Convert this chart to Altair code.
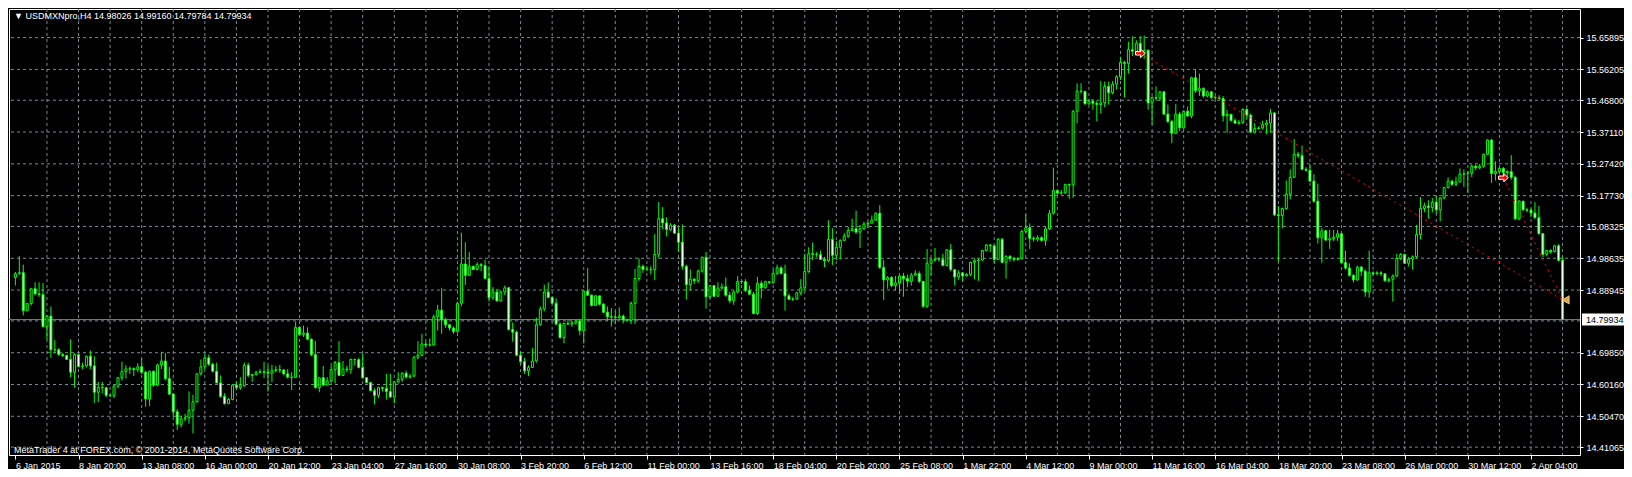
import altair as alt
import pandas as pd

# ---------------- data ----------------
symbol = "USDMXNpro,H4"
first_open = 14.9276

closes = [
    14.9394, 14.9423, 14.8268, 14.8483, 14.8934, 14.8777, 14.8758, 14.7779, 14.8102, 14.7074,
    14.7074, 14.6927, 14.6897, 14.6780, 14.6388, 14.6927, 14.6565, 14.6584, 14.6878, 14.6584,
    14.5781, 14.5928, 14.5918, 14.5684, 14.5674, 14.5967, 14.6222, 14.6408, 14.6486, 14.6496,
    14.6467, 14.6555, 14.6388, 14.5576, 14.6418, 14.5997, 14.6614, 14.6731, 14.6193, 14.5723,
    14.5184, 14.4802, 14.4969, 14.4998, 14.5233, 14.5488, 14.6340, 14.6555, 14.6829, 14.6633,
    14.6418, 14.6065, 14.5654, 14.5429, 14.5556, 14.5997, 14.5919, 14.5977, 14.6604, 14.6291,
    14.6320, 14.6388, 14.6408, 14.6388, 14.6359, 14.6437, 14.6467, 14.6457, 14.6340, 14.6242,
    14.6232, 14.7759, 14.7544, 14.7583, 14.7397, 14.6927, 14.5919, 14.6222, 14.5997, 14.6124,
    14.6467, 14.6682, 14.6291, 14.6486, 14.6467, 14.6780, 14.6770, 14.6535, 14.6222, 14.6075,
    14.5830, 14.5684, 14.5919, 14.5899, 14.5801, 14.5635, 14.6095, 14.6173, 14.6359, 14.6242,
    14.6271, 14.6849, 14.6907, 14.7250, 14.7221, 14.7220, 14.8082, 14.8278, 14.7984, 14.7837,
    14.7739, 14.7632, 14.8493, 14.9687, 14.9345, 14.9619, 14.9521, 14.9668, 14.9639, 14.9247,
    14.8660, 14.8836, 14.8562, 14.8836, 14.8963, 14.7690, 14.7612, 14.6907, 14.6711, 14.6437,
    14.6535, 14.6731, 14.7837, 14.8317, 14.8836, 14.8670, 14.8493, 14.7857, 14.7445, 14.7876,
    14.7857, 14.7896, 14.7955, 14.7661, 14.8865, 14.8738, 14.8425, 14.8718, 14.8464, 14.8219,
    14.8082, 14.8072, 14.8053, 14.8101, 14.7984, 14.7974, 14.8493, 14.9247, 14.9619, 14.9521,
    14.9511, 14.9516, 14.9981, 15.1068, 15.0941, 15.0735, 15.0872, 15.0627, 15.0353, 14.9619,
    14.9061, 14.9227, 14.9178, 14.9472, 14.9893, 14.8689, 14.9032, 14.8708, 14.8953, 14.8992,
    14.8738, 14.8571, 14.8836, 14.9159, 14.9149, 14.8885, 14.8767, 14.8180, 14.9100, 14.8963,
    14.9149, 14.9129, 14.9404, 14.9570, 14.9394, 14.8718, 14.8610, 14.8620, 14.8806, 14.8963,
    14.9460, 15.0002, 14.9983, 14.9973, 14.9827, 14.9789, 15.0440, 14.9954, 15.0197, 15.0410,
    15.0537, 15.0712, 15.0760, 15.0663, 15.0760, 15.0906, 15.0935, 15.1022, 15.1236, 14.9585,
    14.9206, 14.9274, 14.9030, 14.9108, 14.9322, 14.9244, 14.9167, 14.9351, 14.9400, 14.9157,
    14.8399, 14.9711, 14.9808, 14.9837, 14.9827, 14.9643, 15.0119, 14.9517, 14.9293, 14.9419,
    14.9322, 14.9371, 14.9740, 14.9789, 14.9808, 15.0100, 15.0265, 15.0245, 14.9827, 15.0440,
    14.9740, 14.9924, 14.9857, 14.9827, 14.9857, 15.0682, 15.0799, 15.0469, 15.0449, 15.0488,
    15.0410, 15.0760, 15.1236, 15.1926, 15.1848, 15.1858, 15.2111, 15.2101, 15.4345, 15.4958,
    15.4948, 15.4569, 15.4647, 15.4588, 15.4550, 15.4598, 15.5103, 15.4909, 15.5171, 15.5395,
    15.5832, 15.5803, 15.6220, 15.6172, 15.6415, 15.6123, 15.6201, 15.4598, 15.4763, 15.4744,
    15.4938, 15.4258, 15.4034, 15.3675, 15.4258, 15.3840, 15.4345, 15.4200, 15.5366, 15.4977,
    15.5035, 15.4812, 15.4938, 15.4763, 15.4753, 15.4729, 15.4205, 15.4253, 15.4059, 15.3981,
    15.4001, 15.4399, 15.4224, 15.3710, 15.3816, 15.3836, 15.3933, 15.3981, 15.4292, 15.1186,
    15.1166, 15.1380, 15.1817, 15.2331, 15.3030, 15.2991, 15.2574, 15.2545, 15.2215, 15.1603,
    15.0487, 15.0700, 15.0419, 15.0458, 15.0506, 15.0613, 14.9730, 14.9565, 14.9342, 14.9206,
    14.9594, 14.9468, 14.8837, 14.9419, 14.9390, 14.9419, 14.9390, 14.9177, 14.9225, 14.9322,
    14.9856, 14.9982, 14.9711, 14.9837, 14.9905, 15.0584, 15.1380, 15.1458, 15.1409, 15.1574,
    15.1341, 15.1700, 15.2021, 15.2215, 15.2118, 15.2186, 15.2428, 15.2438, 15.2457, 15.2671,
    15.2622, 15.2671, 15.3030, 15.3467, 15.2448, 15.2506, 15.2603, 15.2477, 15.2506, 15.2331,
    15.1070, 15.1603, 15.1341, 15.1331, 15.1244, 15.1098, 15.0613, 14.9982, 15.0099, 15.0060,
    15.0244, 14.98026, 14.79934,
]

highs = [
    14.9443, 14.9932, 14.9668, 14.8503, 14.8963, 14.9130, 14.9130, 14.9110, 14.8131, 14.8395,
    14.7367, 14.7123, 14.6976, 14.6927, 14.7397, 14.6976, 14.6927, 14.6682, 14.6897, 14.7054,
    14.6878, 14.6095, 14.6095, 14.5772, 14.5723, 14.5997, 14.6242, 14.6711, 14.6604, 14.6565,
    14.6535, 14.6663, 14.6799, 14.6437, 14.6437, 14.6437, 14.6653, 14.7015, 14.6976, 14.6555,
    14.5752, 14.5263, 14.5067, 14.5116, 14.5801, 14.5703, 14.6359, 14.6780, 14.6946, 14.6927,
    14.6682, 14.6682, 14.6291, 14.5752, 14.5605, 14.6026, 14.6095, 14.6242, 14.6682, 14.6682,
    14.6340, 14.6437, 14.6486, 14.6702, 14.6584, 14.6614, 14.6584, 14.6614, 14.6486, 14.6486,
    14.6388, 14.7925, 14.7788, 14.7808, 14.7759, 14.7416, 14.7348, 14.6242, 14.6584, 14.6242,
    14.6584, 14.6731, 14.7338, 14.6731, 14.6584, 14.6809, 14.6799, 14.6829, 14.6946, 14.6242,
    14.6095, 14.5899, 14.5948, 14.5948, 14.6340, 14.6340, 14.6114, 14.6388, 14.6388, 14.6437,
    14.6340, 14.6878, 14.7338, 14.7563, 14.7318, 14.7416, 14.8150, 14.8444, 14.8963, 14.8053,
    14.7857, 14.7778, 14.8542, 15.0647, 15.0353, 15.0060, 14.9638, 14.9746, 14.9717, 14.9815,
    14.9619, 14.8983, 14.8934, 14.8885, 14.9032, 14.8983, 14.7906, 14.7661, 14.7025, 14.6829,
    14.6604, 14.7122, 14.8053, 14.8395, 14.9061, 14.9130, 14.8708, 14.8640, 14.7906, 14.7906,
    14.7974, 14.7955, 14.8004, 14.8004, 14.8885, 14.9570, 14.8757, 14.8738, 14.8640, 14.8493,
    14.8395, 14.8346, 14.8248, 14.8366, 14.8150, 14.8004, 14.8542, 14.9540, 14.9864, 14.9668,
    14.9619, 14.9619, 15.0598, 15.1577, 15.1430, 15.1117, 15.0941, 15.0911, 15.0794, 15.0892,
    14.9668, 14.9521, 14.9247, 14.9521, 14.9913, 15.0060, 14.9051, 14.9051, 14.9130, 14.9100,
    14.9276, 14.8836, 14.8885, 14.9325, 14.9178, 14.9227, 14.9032, 14.8836, 14.9296, 14.9178,
    14.9178, 14.9149, 14.9521, 14.9668, 14.9619, 14.9668, 14.8787, 14.8689, 14.8836, 14.9227,
    15.0010, 15.0197, 15.0342, 15.0051, 15.0100, 14.9905, 15.1022, 15.0780, 15.0391, 15.0440,
    15.0634, 15.0828, 15.1071, 15.1314, 15.0877, 15.0974, 15.0974, 15.1168, 15.1265, 15.1479,
    14.9808, 14.9322, 14.9322, 14.9322, 14.9371, 14.9419, 14.9371, 14.9419, 14.9497, 14.9468,
    14.9176, 15.0148, 14.9857, 15.0177, 14.9905, 15.0002, 15.0148, 15.0294, 14.9536, 14.9497,
    14.9439, 14.9419, 14.9760, 14.9857, 14.9857, 15.0119, 15.0294, 15.0294, 15.0119, 15.0488,
    15.0488, 14.9954, 14.9954, 14.9905, 14.9905, 15.0731, 15.1197, 15.0925, 15.0537, 15.0566,
    15.0537, 15.0828, 15.1333, 15.2626, 15.1945, 15.1945, 15.2140, 15.2140, 15.4375, 15.5200,
    15.5200, 15.4977, 15.4715, 15.4715, 15.4666, 15.5268, 15.5249, 15.5249, 15.5268, 15.5443,
    15.6007, 15.5881, 15.6463, 15.6629, 15.6512, 15.6629, 15.6658, 15.6240, 15.4802, 15.5103,
    15.4958, 15.4958, 15.4549, 15.4083, 15.4569, 15.4326, 15.4375, 15.4491, 15.5395, 15.5608,
    15.5492, 15.5074, 15.4977, 15.4880, 15.4812, 15.4836, 15.4807, 15.4389, 15.4224, 15.4127,
    15.4079, 15.4438, 15.4438, 15.4273, 15.3981, 15.3884, 15.4059, 15.4079, 15.4418, 15.4321,
    15.1458, 15.1409, 15.2234, 15.2574, 15.3496, 15.3108, 15.3302, 15.2642, 15.2720, 15.2428,
    15.2137, 15.0778, 15.0730, 15.0730, 15.0730, 15.0730, 15.0633, 15.0099, 14.9710, 14.9371,
    14.9633, 14.9633, 14.9516, 15.0099, 14.9468, 14.9468, 14.9468, 14.9400, 14.9274, 14.9371,
    15.0002, 15.0021, 15.0002, 14.9905, 14.9953, 15.0875, 15.1729, 15.1555, 15.1632, 15.1700,
    15.1749, 15.1729, 15.2040, 15.2331, 15.2254, 15.2350, 15.2603, 15.2574, 15.2525, 15.2720,
    15.2720, 15.2739, 15.3059, 15.3496, 15.3496, 15.2817, 15.2642, 15.2642, 15.2545, 15.3010,
    15.2380, 15.1632, 15.1603, 15.1390, 15.1380, 15.1574, 15.1458, 15.0633, 15.0118, 15.0147,
    15.0273, 15.0293, 14.99160,
]

lows = [
    14.9032, 14.9345, 14.8121, 14.8249, 14.8425, 14.8738, 14.8689, 14.7759, 14.7387, 14.6829,
    14.6976, 14.6897, 14.6858, 14.6760, 14.6242, 14.5919, 14.6535, 14.6486, 14.6535, 14.6486,
    14.5458, 14.5478, 14.5752, 14.5635, 14.5635, 14.5605, 14.5899, 14.6134, 14.6193, 14.6340,
    14.6271, 14.6388, 14.6340, 14.5331, 14.5361, 14.5948, 14.5967, 14.6486, 14.6144, 14.5703,
    14.5018, 14.4626, 14.4705, 14.4900, 14.4822, 14.4528, 14.5458, 14.6291, 14.6486, 14.6584,
    14.6388, 14.6046, 14.5605, 14.5409, 14.5458, 14.5537, 14.5850, 14.5850, 14.5948, 14.6242,
    14.6095, 14.6291, 14.6340, 14.6212, 14.5801, 14.6095, 14.6388, 14.6369, 14.6291, 14.6193,
    14.5850, 14.6222, 14.7514, 14.7465, 14.7367, 14.6878, 14.5899, 14.5781, 14.5977, 14.5997,
    14.6095, 14.6046, 14.6271, 14.6291, 14.6388, 14.6340, 14.6584, 14.6506, 14.6193, 14.6046,
    14.5801, 14.5409, 14.5605, 14.5801, 14.5556, 14.5605, 14.5439, 14.6046, 14.6095, 14.6193,
    14.6193, 14.6242, 14.6780, 14.6878, 14.7172, 14.7171, 14.7200, 14.7661, 14.7563, 14.7739,
    14.7661, 14.7563, 14.7592, 14.8395, 14.9051, 14.9325, 14.9501, 14.9492, 14.9472, 14.9227,
    14.8542, 14.8591, 14.8542, 14.8542, 14.8738, 14.7661, 14.7318, 14.6878, 14.6633, 14.6339,
    14.6270, 14.6535, 14.6682, 14.7808, 14.8248, 14.8640, 14.8473, 14.7837, 14.7416, 14.7270,
    14.7837, 14.7778, 14.7837, 14.7514, 14.7270, 14.8718, 14.8395, 14.8464, 14.8425, 14.8200,
    14.7955, 14.7778, 14.7857, 14.8004, 14.7876, 14.7935, 14.7857, 14.7857, 14.9178, 14.9423,
    14.9501, 14.9374, 14.9198, 14.9864, 15.0745, 15.0529, 15.0696, 15.0598, 15.0060, 14.9521,
    14.8611, 14.8885, 14.9081, 14.9110, 14.9423, 14.8327, 14.8640, 14.8679, 14.8836, 14.8934,
    14.8689, 14.8493, 14.8444, 14.8787, 14.9081, 14.8836, 14.8757, 14.8150, 14.8131, 14.8640,
    14.8934, 14.9081, 14.9081, 14.9345, 14.9374, 14.8268, 14.8591, 14.8562, 14.8591, 14.8738,
    14.8885, 14.9419, 14.9808, 14.9905, 14.9808, 14.9594, 14.9740, 14.9662, 14.9808, 14.9827,
    15.0391, 15.0488, 15.0682, 15.0605, 15.0177, 15.0731, 15.0780, 15.0925, 15.1003, 14.9536,
    14.8594, 14.8934, 14.8982, 14.8885, 14.8788, 14.8691, 14.8982, 14.9030, 14.9322, 14.9108,
    14.8350, 14.8350, 14.9351, 14.9760, 14.9760, 14.9614, 14.9614, 14.9468, 14.9030, 14.9206,
    14.9176, 14.9322, 14.9322, 14.9225, 14.9176, 14.9789, 15.0080, 15.0051, 14.9711, 14.9808,
    14.9711, 14.9244, 14.9760, 14.9760, 14.9789, 14.9827, 15.0634, 15.0148, 15.0372, 15.0372,
    15.0372, 15.0245, 15.0731, 15.1197, 15.1800, 15.1800, 15.1829, 15.1673, 15.1702, 15.3986,
    15.4880, 15.4550, 15.4550, 15.4394, 15.4034, 15.4277, 15.4472, 15.4550, 15.4860, 15.5006,
    15.5298, 15.4763, 15.5492, 15.6026, 15.6075, 15.5978, 15.5949, 15.4394, 15.3937, 15.4666,
    15.4666, 15.4229, 15.3986, 15.3374, 15.3646, 15.3743, 15.3811, 15.4180, 15.4132, 15.4909,
    15.4812, 15.4763, 15.4763, 15.4715, 15.4715, 15.4680, 15.4030, 15.3690, 15.4030, 15.3962,
    15.3933, 15.3962, 15.4127, 15.3690, 15.3671, 15.3787, 15.3787, 15.3642, 15.3690, 15.1147,
    14.9759, 15.0778, 15.1341, 15.1652, 15.2312, 15.2914, 15.2545, 15.2506, 15.2186, 15.1555,
    15.0312, 14.9730, 15.0390, 15.0147, 15.0390, 15.0390, 14.9710, 14.9516, 14.9303, 14.9128,
    14.9177, 14.9322, 14.8691, 14.8662, 14.9342, 14.9342, 14.9322, 14.9148, 14.9128, 14.8546,
    14.9303, 14.9807, 14.9691, 14.9613, 14.9516, 14.9856, 15.0438, 15.1264, 15.1069, 15.1264,
    15.1215, 15.0992, 15.1671, 15.1992, 15.2060, 15.2060, 15.2186, 15.2040, 15.1846, 15.2331,
    15.2545, 15.2574, 15.2622, 15.3011, 15.2157, 15.2234, 15.2428, 15.2380, 15.2331, 15.2254,
    15.1021, 15.1021, 15.1312, 15.1264, 15.1118, 15.1069, 15.0584, 14.9905, 14.9924, 15.0002,
    15.0050, 14.9759, 14.79784,
]

x_labels = [
    "6 Jan 2015", "8 Jan 20:00", "13 Jan 08:00", "16 Jan 00:00", "20 Jan 12:00",
    "23 Jan 04:00", "27 Jan 16:00", "30 Jan 08:00", "3 Feb 20:00", "6 Feb 12:00",
    "11 Feb 00:00", "13 Feb 16:00", "18 Feb 04:00", "20 Feb 20:00", "25 Feb 08:00",
    "1 Mar 22:00", "4 Mar 12:00", "9 Mar 00:00", "11 Mar 16:00", "16 Mar 04:00",
    "18 Mar 20:00", "23 Mar 08:00", "26 Mar 00:00", "30 Mar 12:00", "2 Apr 04:00",
]
label_every = 16   # bars between time labels
grid_every = 8     # bars between vertical grid lines

price_labels = [15.65895, 15.56205, 15.46800, 15.37110, 15.27420, 15.17730, 15.08325,
                14.98635, 14.88945, 14.69850, 14.60160, 14.50470, 14.41065]
hidden_grid = [14.79540]

trade_open_bar = [285, 377]
trade_open_price = [15.611, 15.232]
trade_close_bar = [392, 392]
trade_close_price = [14.8595, 14.8595]

price_domain = [14.4019, 15.7309]
bar_domain = [-0.35, 395.15]

footer = "MetaTrader 4 at FOREX.com, © 2001-2014, MetaQuotes Software Corp."

# ---------------- build ----------------
W, H = 1571, 446
FONT = "Liberation Sans"
LIME = "#00ff00"
GRID = "#778899"

n = len(closes)
opens = [first_open] + closes[:-1]
candles = pd.DataFrame({
    "i": list(range(n)), "open": opens, "close": closes,
    "high": highs[:n], "low": lows[:n],
})
candles["dir"] = ["bull" if c > o else "bear" for o, c in zip(opens, closes)]

xscale = alt.Scale(domain=bar_domain, nice=False, zero=False)
yscale = alt.Scale(domain=price_domain, nice=False, zero=False)

label_expr = "[" + ",".join("'" + s + "'" for s in x_labels) + "][round(datum.value/%d)]" % label_every
x_axis = alt.Axis(orient="bottom", values=[k * label_every for k in range(len(x_labels))],
                  labelExpr=label_expr, labelAlign="left", grid=False, domain=False,
                  tickColor="white", tickSize=4, labelColor="white", labelFont=FONT,
                  labelFontSize=9, labelPadding=2, labelOverlap=False, labelFlush=False,
                  title=None)
y_axis = alt.Axis(orient="right", values=price_labels, format=".5f", grid=False, domain=False,
                  tickColor="white", tickSize=3, labelColor="white", labelFont=FONT,
                  labelFontSize=9, labelPadding=3, labelOverlap=False, labelFlush=False,
                  title=None)

X = lambda f: alt.X(f, type="quantitative", scale=xscale, axis=x_axis)
Y = lambda f: alt.Y(f, type="quantitative", scale=yscale, axis=y_axis)

hgrid = alt.Chart(pd.DataFrame({"p": price_labels + hidden_grid})).mark_rule(
    color=GRID, strokeDash=[3, 3], strokeWidth=1).encode(y=Y("p"))

vgrid = alt.Chart(pd.DataFrame({"b": list(range(grid_every, n, grid_every))})).mark_rule(
    color=GRID, strokeDash=[3, 3], strokeWidth=1).encode(x=X("b"))

last = pd.DataFrame({"p": [closes[-1]], "lbl": ["%.5f" % closes[-1]]})
price_line = alt.Chart(last).mark_rule(color=GRID, strokeWidth=1).encode(y=Y("p"))

wicks = alt.Chart(candles).mark_rule(color=LIME, strokeWidth=1).encode(
    x=X("i"), y=Y("low"), y2="high")

bodies = alt.Chart(candles).mark_bar(size=2, stroke=LIME, strokeWidth=1, orient="vertical").encode(
    x=X("i"), y=Y("open"), y2="close",
    fill=alt.Fill("dir:N", scale=alt.Scale(domain=["bull", "bear"], range=["#000000", "#ffffff"]),
                  legend=None))

trades = pd.DataFrame({"ob": trade_open_bar, "op": trade_open_price,
                       "cb": trade_close_bar, "cp": trade_close_price})
trade_lines = alt.Chart(trades).mark_rule(color="#ff0000", strokeDash=[2, 4], strokeWidth=1).encode(
    x=X("ob"), y=Y("op"), x2="cb", y2="cp")
ARROW = "M-1,-0.35L0.1,-0.35L0.1,-0.9L1,0L0.1,0.9L0.1,0.35L-1,0.35Z"
arrows = alt.Chart(trades).mark_point(shape=ARROW, filled=True, size=90,
                                      fill="#ff0000", stroke="#ffffff", strokeWidth=1,
                                      opacity=1).encode(x=X("ob"), y=Y("op"))
closes_mk = alt.Chart(trades.iloc[:1]).mark_point(shape="triangle-left", filled=True, size=70,
                                                  fill="#e8a33a", stroke="#fff2c8", strokeWidth=0.6,
                                                  opacity=1, xOffset=3).encode(x=X("cb"), y=Y("cp"))

title_txt = "\u25BC  %s  %.5f %.5f %.5f %.5f" % (symbol, opens[-1], highs[-1], lows[-1], closes[-1])
title = alt.Chart(pd.DataFrame({"t": [title_txt]})).mark_text(
    align="left", baseline="middle", color="white", font=FONT, fontSize=9).encode(
    x=alt.value(5), y=alt.value(7), text="t:N")
foot = alt.Chart(pd.DataFrame({"t": [footer]})).mark_text(
    align="left", baseline="middle", color="white", font=FONT, fontSize=9).encode(
    x=alt.value(5), y=alt.value(H - 5), text="t:N")

price_box = alt.Chart(last).mark_bar(orient="horizontal", size=12, color="white").encode(
    y=Y("p"), x=alt.value(W + 2), x2=alt.value(W + 46))
price_text = alt.Chart(last).mark_text(align="left", baseline="middle", color="black",
                                       font=FONT, fontSize=9).encode(
    y=Y("p"), x=alt.value(W + 6), text="lbl:N")

chart = alt.layer(hgrid, vgrid, price_line, wicks, bodies, trade_lines, arrows, closes_mk,
                  title, foot, price_box, price_text).properties(
    width=W, height=H, background="#000000",
    autosize=alt.AutoSizeParams(type="none"),
    padding={"left": 1, "top": 1, "right": 44, "bottom": 14},
).configure_view(stroke="#ffffff", strokeWidth=1)

chart.save("out.html", embed_options={"renderer": "svg", "actions": False})
